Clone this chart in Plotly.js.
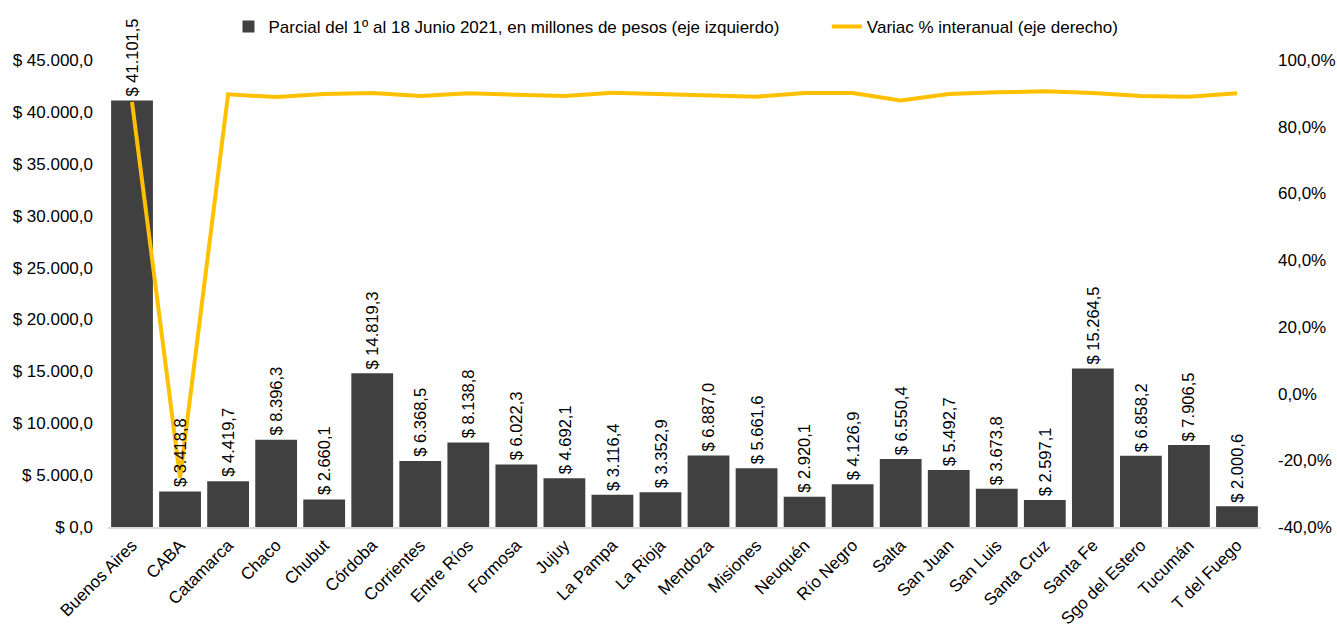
<!DOCTYPE html>
<html>
<head>
<meta charset="utf-8">
<script src="https://cdn.plot.ly/plotly-3.0.1.min.js"></script>
<style>
html,body{margin:0;padding:0;background:#fff;}
#chart{width:1337px;height:627px;}
</style>
</head>
<body>
<div id="chart"></div>
<script>
var provincias = ["Buenos Aires","CABA","Catamarca","Chaco","Chubut","Córdoba","Corrientes","Entre Ríos","Formosa","Jujuy","La Pampa","La Rioja","Mendoza","Misiones","Neuquén","Río Negro","Salta","San Juan","San Luis","Santa Cruz","Santa Fe","Sgo del Estero","Tucumán","T del Fuego"];
var parcial = [41101.5,3418.8,4419.7,8396.3,2660.1,14819.3,6368.5,8138.8,6022.3,4692.1,3116.4,3352.9,6887.0,5661.6,2920.1,4126.9,6550.4,5492.7,3673.8,2597.1,15264.5,6858.2,7906.5,2000.6];
var variacion = [87.4,-25.2,89.7,88.9,89.8,90.1,89.2,90.0,89.6,89.2,90.2,89.8,89.2,89.0,90.1,90.1,87.9,89.8,90.3,90.6,90.1,89.2,89.0,90.0];
var leftTicks = [0,5000,10000,15000,20000,25000,30000,35000,40000,45000];
var rightTicks = [-40,-20,0,20,40,60,80,100];

var fontFam = '"Liberation Sans", Arial, sans-serif';

function fmtNum(v, dec) {
  var s = Math.abs(v).toFixed(dec);
  var parts = s.split('.');
  var ent = parts[0].replace(/\B(?=(\d{3})+(?!\d))/g, '.');
  return (v < 0 ? '-' : '') + ent + (dec > 0 ? ',' + parts[1] : '');
}
var leftText = leftTicks.map(function (v) { return '$ ' + fmtNum(v, 1); });
var rightText = rightTicks.map(function (v) { return fmtNum(v, 1) + '%'; });

var nb = '\u00A0';
var barName = 'Parcial del 1º al 18 Junio 2021, en millones de pesos (eje izquierdo)' + nb.repeat(9);

var barTrace = {
  type: 'bar',
  x: provincias,
  y: parcial,
  name: barName,
  marker: {color: '#404040'},
  yaxis: 'y'
};
var lineTrace = {
  type: 'scatter',
  mode: 'lines',
  x: provincias,
  y: variacion,
  name: 'Variac % interanual (eje derecho)',
  line: {color: '#FFC000', width: 4},
  yaxis: 'y2',
  cliponaxis: false
};

var annotations = provincias.map(function (p, i) {
  return {
    x: p, y: parcial[i], xref: 'x', yref: 'y',
    text: '$ ' + fmtNum(parcial[i], 1),
    textangle: -90, showarrow: false,
    xanchor: 'center', yanchor: 'bottom', yshift: 2,
    font: {family: fontFam, size: 16.5, color: '#000'}
  };
});

var layout = {
  width: 1337, height: 627,
  margin: {l: 108, r: 76, t: 60, b: 100, autoexpand: false},
  paper_bgcolor: '#fff', plot_bgcolor: '#fff',
  font: {family: fontFam, size: 17, color: '#000'},
  bargap: 0.13,
  showlegend: true,
  legend: {orientation: 'h', xref: 'container', yref: 'container', x: 0.5056, xanchor: 'center', y: 0.957, yanchor: 'middle', font: {family: fontFam, size: 17, color: '#000'}, itemwidth: 30, traceorder: 'normal'},
  annotations: annotations,
  xaxis: {
    type: 'category', tickangle: -45, showline: true, linecolor: '#d9d9d9', linewidth: 1.5,
    ticks: '', showgrid: false, tickfont: {family: fontFam, size: 17, color: '#000'}
  },
  yaxis: {
    range: [0, 45000], tickmode: 'array', tickvals: leftTicks, ticktext: leftText,
    showgrid: false, zeroline: false, showline: false, ticks: '', ticklabelstandoff: 14,
    tickfont: {family: fontFam, size: 17, color: '#000'}
  },
  yaxis2: {
    range: [-40, 100], tickmode: 'array', tickvals: rightTicks, ticktext: rightText,
    overlaying: 'y', side: 'right', showgrid: false, zeroline: false, showline: false, ticks: '',
    ticklabelstandoff: 16, tickfont: {family: fontFam, size: 17, color: '#000'}
  }
};

Plotly.newPlot('chart', [barTrace, lineTrace], layout, {displayModeBar: false, responsive: false});
</script>
</body>
</html>
